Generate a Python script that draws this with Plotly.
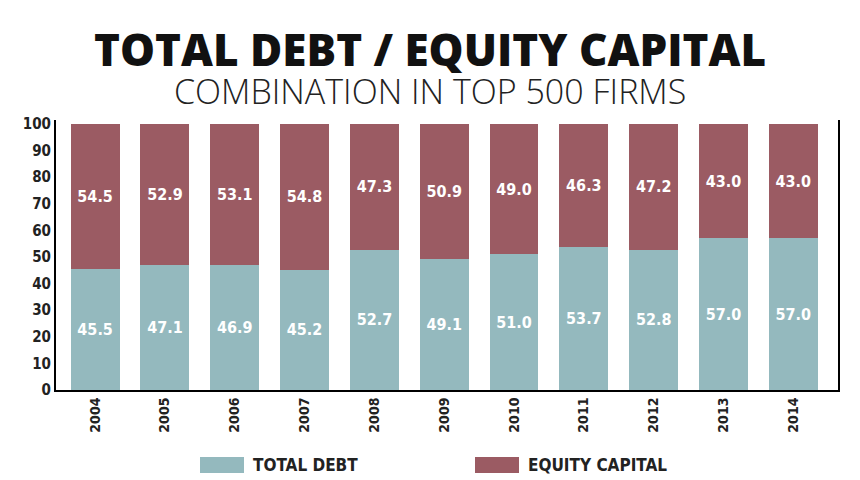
import plotly.graph_objects as go

years = ["2004", "2005", "2006", "2007", "2008", "2009", "2010", "2011", "2012", "2013", "2014"]
total_debt = [45.5, 47.1, 46.9, 45.2, 52.7, 49.1, 51.0, 53.7, 52.8, 57.0, 57.0]
equity_capital = [54.5, 52.9, 53.1, 54.8, 47.3, 50.9, 49.0, 46.3, 47.2, 43.0, 43.0]
y_ticks = list(range(0, 101, 10))

debt_color = "#94b9be"
equity_color = "#9b5b63"
cond = "DejaVu Sans Condensed"
label_font = dict(family=cond, size=16, color="white", weight="bold")

# the page adds an 8px body margin, so the figure is 8px smaller and
# everything is placed in page pixels through these helpers
PX0, PX1, PY0, PY1 = 56, 838, 120, 390


def px(x):
    return (x - PX0) / (PX1 - PX0)


def py(y):
    return (PY1 - y) / (PY1 - PY0)


fig = go.Figure()
fig.add_trace(go.Bar(
    x=years, y=total_debt, name="TOTAL DEBT", marker=dict(color=debt_color, line=dict(width=0)),
    texttemplate="%{y:.1f}", textposition="inside", insidetextanchor="middle",
    textfont=label_font, showlegend=False,
))
fig.add_trace(go.Bar(
    x=years, y=equity_capital, name="EQUITY CAPITAL", marker=dict(color=equity_color, line=dict(width=0)),
    texttemplate="%{y:.1f}", textposition="inside", insidetextanchor="middle",
    textfont=label_font, showlegend=False,
))

fig.update_layout(
    width=852, height=472,
    barmode="stack", bargap=0.3,
    plot_bgcolor="white", paper_bgcolor="white",
    margin=dict(l=48, r=22, t=112, b=90, autoexpand=False),
    uniformtext=dict(minsize=10, mode="show"),
    xaxis=dict(
        type="category", range=[-0.56, 10.64], tickangle=-90,
        showline=True, linecolor="black", linewidth=2, showgrid=False,
        tickfont=dict(family=cond, size=14, color="#222", weight="bold"),
        ticks="", automargin=False,
    ),
    yaxis=dict(
        range=[0, 101.5], tickvals=y_ticks, showgrid=False, zeroline=False,
        showline=True, linecolor="black", linewidth=2, mirror=True,
        tickfont=dict(family=cond, size=15, color="#222", weight="bold"),
        ticks="", automargin=False,
    ),
    font=dict(family=cond),
)

# titles
fig.add_annotation(
    text="TOTAL DEBT / EQUITY CAPITAL", xref="paper", yref="paper",
    x=px(430), y=py(49), yanchor="middle", showarrow=False,
    font=dict(family="Open Sans", size=44, color="#111", weight=800),
)
fig.add_annotation(
    text="COMBINATION IN TOP 500 FIRMS", xref="paper", yref="paper",
    x=px(430), y=py(91), yanchor="middle", showarrow=False,
    font=dict(family="Open Sans", size=34, color="#222", weight=300),
)

# legend drawn by hand: wide swatches like the original
for x0, color, label in [(200, debt_color, "TOTAL DEBT"), (475, equity_color, "EQUITY CAPITAL")]:
    fig.add_shape(
        type="rect", xref="paper", yref="paper",
        x0=px(x0), x1=px(x0 + 44), y0=py(457), y1=py(473),
        fillcolor=color, line=dict(width=0),
    )
    fig.add_annotation(
        text=label, xref="paper", yref="paper",
        x=px(x0 + 51), y=py(465), xanchor="left", yanchor="middle",
        showarrow=False, font=dict(family=cond, size=17, color="#222", weight="bold"),
    )

fig.write_html("out.html")
